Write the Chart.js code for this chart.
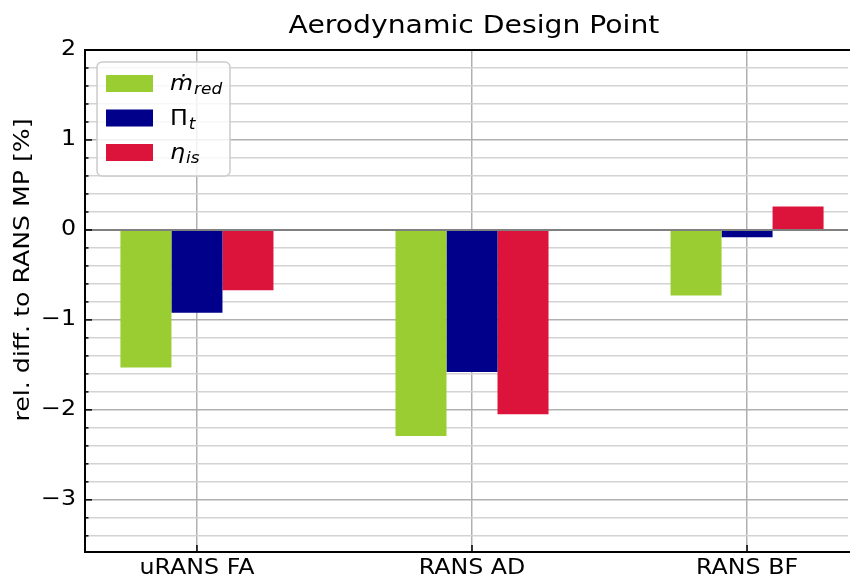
<!DOCTYPE html>
<html>
<head>
<meta charset="utf-8">
<script src="https://cdn.jsdelivr.net/npm/chart.js@4.4.1/dist/chart.umd.min.js"></script>
<style>
  html, body { margin: 0; padding: 0; background: #fff; }
  #wrap { width: 850px; height: 580px; }
</style>
</head>
<body>
<div id="wrap"><canvas id="chart" width="850" height="580"></canvas></div>
<script>
// Cases compared against the RANS mixing-plane reference
const categories = ['uRANS FA', 'RANS AD', 'RANS BF'];

// Relative differences in percent
const massFlow = [-1.53, -2.29, -0.73];
const totalPressureRatio = [-0.92, -1.58, -0.08];
const isentropicEfficiency = [-0.67, -2.05, 0.26];

// Series names: base symbol + subscript
const seriesNames = [
  { base: 'ṁ', sub: 'red', baseItalic: true },
  { base: 'Π', sub: 't', baseItalic: false },
  { base: 'η', sub: 'is', baseItalic: true }
];
const seriesColors = ['#9acd32', '#00008b', '#dc143c'];

// Y axis labelled ticks and the minor step between them
const yTickLabels = [-3, -2, -1, 0, 1, 2];
const yMinorStep = 0.2;
const yMin = -3.58, yMax = 2;
const xMin = -0.407, xMax = 2.367;
const chartTitle = 'Aerodynamic Design Point';
const yAxisTitle = 'rel. diff. to RANS MP [%]';

const FONT = "'DejaVu Sans', sans-serif";
const TEXT_STRETCH = 1.13;

function toPoints(values) {
  return values.map((v, i) => ({ x: i, y: v }));
}

const isMajor = v => Math.abs(v - Math.round(v)) < 1e-6;
const fmt = v => (v < 0 ? '\u2212' + Math.abs(v) : String(v));

// Draw all text slightly widened around its anchor point
const wideText = {
  id: 'wideText',
  beforeDraw(chart) {
    const ctx = chart.ctx;
    if (!ctx._plainFillText) {
      const plain = ctx.fillText.bind(ctx);
      ctx._plainFillText = plain;
      ctx.fillText = function (text, x, y, maxWidth) {
        const s = ctx.textStretch || 1;
        ctx.save();
        ctx.translate(x, y);
        ctx.scale(s, 1);
        if (maxWidth === undefined) plain(text, 0, 0);
        else plain(text, 0, 0, maxWidth / s);
        ctx.restore();
      };
    }
    ctx.textStretch = TEXT_STRETCH;
  }
};

// Inward tick marks on the left and bottom spines, plus the top spine
const spinesAndTicks = {
  id: 'spinesAndTicks',
  afterDatasetsDraw(chart) {
    const { ctx, chartArea: a, scales } = chart;
    ctx.save();
    ctx.strokeStyle = '#000';
    ctx.lineWidth = 1.5;
    scales.y.ticks.forEach(t => {
      const py = scales.y.getPixelForValue(t.value);
      if (py < a.top - 0.5 || py > a.bottom + 0.5) return;
      const len = isMajor(t.value) ? 7 : 3.5;
      ctx.beginPath();
      ctx.moveTo(a.left, py);
      ctx.lineTo(a.left + len, py);
      ctx.stroke();
    });
    scales.x.ticks.forEach(t => {
      const px = scales.x.getPixelForValue(t.value);
      ctx.beginPath();
      ctx.moveTo(px, a.bottom);
      ctx.lineTo(px, a.bottom - 7);
      ctx.stroke();
    });
    ctx.lineWidth = 2;
    ctx.beginPath();
    ctx.moveTo(a.right + 2, a.top);
    ctx.lineTo(a.left, a.top);
    ctx.lineTo(a.left, a.bottom);
    ctx.lineTo(a.right + 2, a.bottom);
    ctx.stroke();
    ctx.restore();
  }
};

// Chart title (centred on the full axes, which run slightly past the right edge)
// and the rotated y axis title
const titles = {
  id: 'titles',
  afterDraw(chart) {
    const ctx = chart.ctx;
    ctx.save();
    ctx.fillStyle = '#000';
    ctx.font = '25px ' + FONT;
    ctx.textAlign = 'center';
    ctx.textBaseline = 'alphabetic';
    ctx.textStretch = TEXT_STRETCH;
    ctx.fillText(chartTitle, 474, 33);

    ctx.textStretch = 1.2;
    ctx.translate(24, 270);
    ctx.rotate(-Math.PI / 2);
    ctx.font = '21px ' + FONT;
    ctx.textBaseline = 'middle';
    ctx.fillText(yAxisTitle, 0, 0);
    ctx.restore();
    ctx.textStretch = TEXT_STRETCH;
  }
};

// Legend with subscripted symbols
const mathLegend = {
  id: 'mathLegend',
  afterDraw(chart) {
    const { ctx, chartArea: a } = chart;
    const bx = a.left + 12, by = a.top + 12, bw = 133, bh = 114, r = 5;
    ctx.save();
    ctx.fillStyle = 'rgba(255,255,255,0.82)';
    ctx.strokeStyle = '#cccccc';
    ctx.lineWidth = 1.5;
    ctx.beginPath();
    ctx.roundRect(bx, by, bw, bh, r);
    ctx.fill();
    ctx.stroke();
    chart.data.datasets.forEach((ds, i) => {
      const rowY = by + 13 + i * 34.5;
      ctx.fillStyle = ds.backgroundColor;
      ctx.fillRect(bx + 9, rowY, 47, 17);
      const name = seriesNames[i];
      const tx = bx + 73, ty = rowY + 15;
      ctx.fillStyle = '#000';
      ctx.textAlign = 'left';
      ctx.textBaseline = 'alphabetic';
      ctx.font = (name.baseItalic ? 'italic ' : '') + '21px ' + FONT;
      ctx.fillText(name.base, tx, ty);
      const w = ctx.measureText(name.base).width * TEXT_STRETCH;
      ctx.font = 'italic 15px ' + FONT;
      ctx.fillText(name.sub, tx + w + 1, ty + 4);
    });
    ctx.restore();
  }
};

new Chart(document.getElementById('chart'), {
  type: 'bar',
  data: {
    datasets: [
      { label: 'm_red', data: toPoints(massFlow), backgroundColor: seriesColors[0] },
      { label: 'Pi_t', data: toPoints(totalPressureRatio), backgroundColor: seriesColors[1] },
      { label: 'eta_is', data: toPoints(isentropicEfficiency), backgroundColor: seriesColors[2] }
    ]
  },
  options: {
    responsive: false,
    animation: false,
    devicePixelRatio: 1,
    layout: { padding: { left: 0, right: 2, top: 50, bottom: 0 } },
    datasets: {
      bar: { categoryPercentage: 0.5564, barPercentage: 1.0, borderWidth: 0 }
    },
    plugins: {
      legend: { display: false },
      tooltip: { enabled: false },
      title: { display: false }
    },
    scales: {
      x: {
        type: 'linear',
        offset: false,
        min: xMin,
        max: xMax,
        afterBuildTicks(scale) {
          scale.ticks = categories.map((c, i) => ({ value: i }));
        },
        afterFit(scale) { scale.height = 28; },
        ticks: {
          color: '#000',
          font: { family: FONT, size: 21 },
          padding: 4,
          maxRotation: 0,
          autoSkip: false,
          callback: v => categories[v] ?? ''
        },
        grid: { color: '#b0b0b0', lineWidth: 1.5, drawTicks: false, offset: false },
        border: { display: false }
      },
      y: {
        min: yMin,
        max: yMax,
        afterBuildTicks(scale) {
          const t = [];
          const first = yTickLabels[0] - 2 * yMinorStep;
          for (let k = 0; ; k++) {
            const v = Math.round((first + k * yMinorStep) * 1000) / 1000;
            if (v > yMax + 1e-9) break;
            if (v >= yMin - 1e-9) t.push({ value: v });
          }
          scale.ticks = t;
        },
        afterFit(scale) { scale.width = 85; },
        ticks: {
          autoSkip: false,
          color: '#000',
          font: { family: FONT, size: 21 },
          padding: 9,
          callback: v => (isMajor(v) && yTickLabels.includes(Math.round(v)) ? fmt(Math.round(v)) : '')
        },
        grid: {
          drawTicks: false,
          lineWidth: ctx => (Math.abs(ctx.tick.value) < 1e-6 ? 2 : 1.5),
          color: ctx => {
            const v = ctx.tick.value;
            if (Math.abs(v) < 1e-6) return '#808080';
            return isMajor(v) ? '#b0b0b0' : '#d3d3d3';
          }
        },
        border: { display: false }
      }
    }
  },
  plugins: [wideText, spinesAndTicks, titles, mathLegend]
});
</script>
</body>
</html>
